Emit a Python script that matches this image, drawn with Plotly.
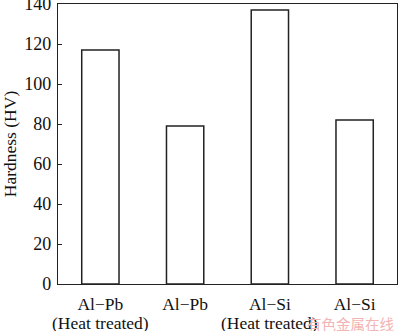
import plotly.graph_objects as go

# Alloy samples and their measured Vickers hardness
alloys = ["Al\u2212Pb", "Al\u2212Pb", "Al\u2212Si", "Al\u2212Si"]
conditions = ["(Heat treated)", "", "(Heat treated)", ""]
hardness = [117, 79, 137, 82]
y_ticks = [0, 20, 40, 60, 80, 100, 120, 140]

serif = "Liberation Serif, Times New Roman, serif"
positions = list(range(len(alloys)))

fig = go.Figure(
    go.Bar(
        x=positions,
        y=hardness,
        width=0.44,
        marker=dict(color="white", line=dict(color="#222222", width=1.5)),
    )
)

fig.update_layout(
    width=400,
    height=331,
    margin=dict(l=58, r=3, t=4, b=47, autoexpand=False),
    paper_bgcolor="white",
    plot_bgcolor="white",
    showlegend=False,
    font=dict(family=serif, size=17, color="#111111"),
)

fig.update_xaxes(
    range=[-0.5, 3.5],
    tickvals=positions,
    ticktext=alloys,
    ticks="",
    showgrid=False,
    zeroline=False,
    showline=True,
    linecolor="#222222",
    linewidth=1.3,
    mirror=True,
    tickfont=dict(size=17.5),
    ticklabelstandoff=4,
    automargin=False,
)

fig.update_yaxes(
    range=[0, 140],
    tickvals=y_ticks,
    ticks="inside",
    ticklen=4,
    tickcolor="#222222",
    tickwidth=1.2,
    showgrid=False,
    zeroline=False,
    showline=True,
    linecolor="#222222",
    linewidth=1.3,
    mirror=True,
    tickfont=dict(size=18),
    ticklabeloverflow="allow",
    ticklabelstandoff=2,
    automargin=False,
    title=dict(text="Hardness (HV)", font=dict(size=17.5), standoff=6),
)

# Second line of the category labels (treatment condition)
for pos, cond in zip(positions, conditions):
    if cond:
        fig.add_annotation(
            text=cond,
            xref="x", yref="paper",
            x=pos, y=0, xanchor="center", yanchor="middle",
            yshift=-38.5,
            showarrow=False,
            font=dict(family=serif, size=17.5, color="#111111"),
        )

# Site watermark in the lower right corner
fig.add_annotation(
    text="有色金属在线",
    xref="paper", yref="paper",
    x=1.0, y=0, xanchor="right", yanchor="middle",
    yshift=-39, xshift=-1,
    showarrow=False,
    font=dict(family="Noto Sans CJK SC", size=14.5, color="#f2b4b4"),
)

fig.write_html("out.html")
